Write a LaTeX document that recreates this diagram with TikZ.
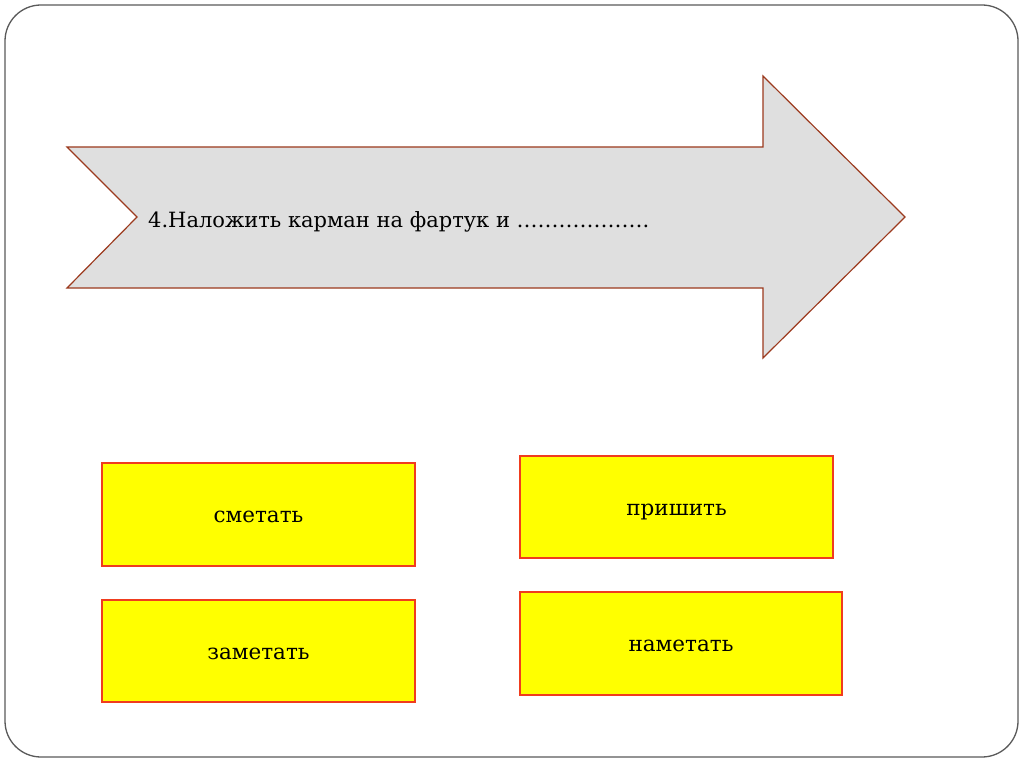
\documentclass[tikz,border=0pt]{standalone}
\usepackage{fontspec}
\setmainfont{DejaVu Serif}
\definecolor{framec}{HTML}{5A5A5A}
\definecolor{arrowfill}{HTML}{DFDFDF}
\definecolor{arrowline}{HTML}{9C3A1E}
\definecolor{boxfill}{HTML}{FFFF00}
\definecolor{boxline}{HTML}{F03C1E}
\tikzset{
  answer/.style={draw=boxline, line width=1.2pt, fill=boxfill, font=\fontsize{21.5}{26}\selectfont, inner sep=0pt, text height=16pt, text depth=0pt},
}
\begin{document}
\begin{tikzpicture}[x=1pt,y=-1pt]
\useasboundingbox (0,0) rectangle (1024,767);
\fill[white] (0,0) rectangle (1024,767);
% frame
\draw[framec, line width=1.3pt, rounded corners=36pt] (5,5) rectangle (1018,757);
% big arrow
\draw[arrowline, line width=1.2pt, fill=arrowfill, line join=miter]
  (67,147) -- (763,147) -- (763,76) -- (905,217) -- (763,358) -- (763,288) -- (67,288) -- (137,217) -- cycle;
\node[anchor=base west, font=\fontsize{21}{24}\selectfont, inner sep=0pt] (task) at (148,227) {4.Наложить карман на фартук и ……………….};
% answer boxes
\node[answer, minimum width=313pt, minimum height=103pt] (b1) at (258.5,514.5) {сметать};
\node[answer, minimum width=313pt, minimum height=102pt] (b2) at (258.5,651) {заметать};
\node[answer, minimum width=313pt, minimum height=102pt] (b3) at (676.5,507) {пришить};
\node[answer, minimum width=322pt, minimum height=103pt] (b4) at (681,643.5) {наметать};
\end{tikzpicture}
\end{document}
